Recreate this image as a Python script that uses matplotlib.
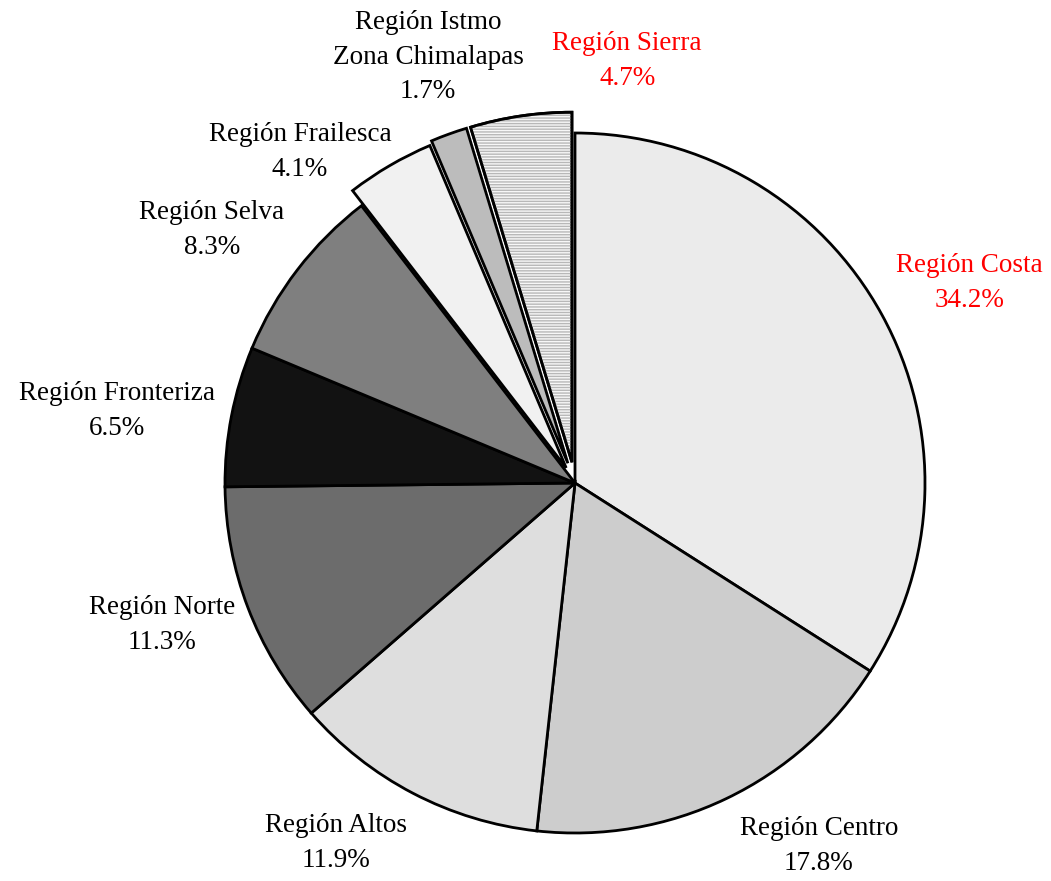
import numpy as np
import matplotlib.pyplot as plt
from matplotlib.patches import Wedge

# datos por región (orden horario desde arriba)
regiones = ['Región Costa', 'Región Centro', 'Región Altos', 'Región Norte',
            'Región Fronteriza', 'Región Selva', 'Región Frailesca',
            'Región Istmo\nZona Chimalapas', 'Región Sierra']
porcentajes = [34.2, 17.8, 11.9, 11.3, 6.5, 8.3, 4.1, 1.7, 4.7]

colores = ['#ebebeb', '#cdcdcd', '#dedede', '#6c6c6c', '#121212',
           '#7f7f7f', '#f1f1f1', '#bcbcbc', '#f7f7f7']
explotar = [0, 0, 0, 0, 0, 0, 0.05, 0.06, 0.06]
color_texto = ['red', 'black', 'black', 'black', 'black',
               'black', 'black', 'black', 'red']
# posición de las etiquetas (unidades del radio)
pos_etiquetas = [(1.126, 0.571), (0.697, -1.037), (-0.683, -1.029), (-1.18, -0.406),
                 (-1.309, 0.206), (-1.037, 0.723), (-0.786, 0.946), (-0.42, 1.217),
                 (0.149, 1.206)]

plt.rcParams['font.family'] = ['Liberation Serif', 'DejaVu Serif']

fig = plt.figure(figsize=(10.51, 8.81), dpi=100)
ax = fig.add_axes([0, 0, 1, 1])

wedges, _ = ax.pie(porcentajes, colors=colores, explode=explotar,
                   startangle=90, counterclock=False, radius=1,
                   wedgeprops=dict(edgecolor='black', linewidth=2.0))

# rayado horizontal gris para Región Sierra
w = wedges[-1]
raya = Wedge(w.center, w.r, w.theta1, w.theta2, facecolor='none',
             edgecolor='#b8b8b8', linewidth=0, hatch='------', zorder=3)
ax.add_patch(raya)
borde = Wedge(w.center, w.r, w.theta1, w.theta2, facecolor='none',
              edgecolor='black', linewidth=2.0, zorder=4)
ax.add_patch(borde)

for reg, p, c, (x, y) in zip(regiones, porcentajes, color_texto, pos_etiquetas):
    ax.text(x, y, f'{reg}\n{p:.1f}%', color=c, fontsize=19.5,
            ha='center', va='center', linespacing=1.52)

r = 350.0
ax.set_xlim(-575 / r, (1051 - 575) / r)
ax.set_ylim(-(881 - 483) / r, 483 / r)
ax.set_aspect('auto')
ax.axis('off')

plt.savefig('out.png', dpi=100)
